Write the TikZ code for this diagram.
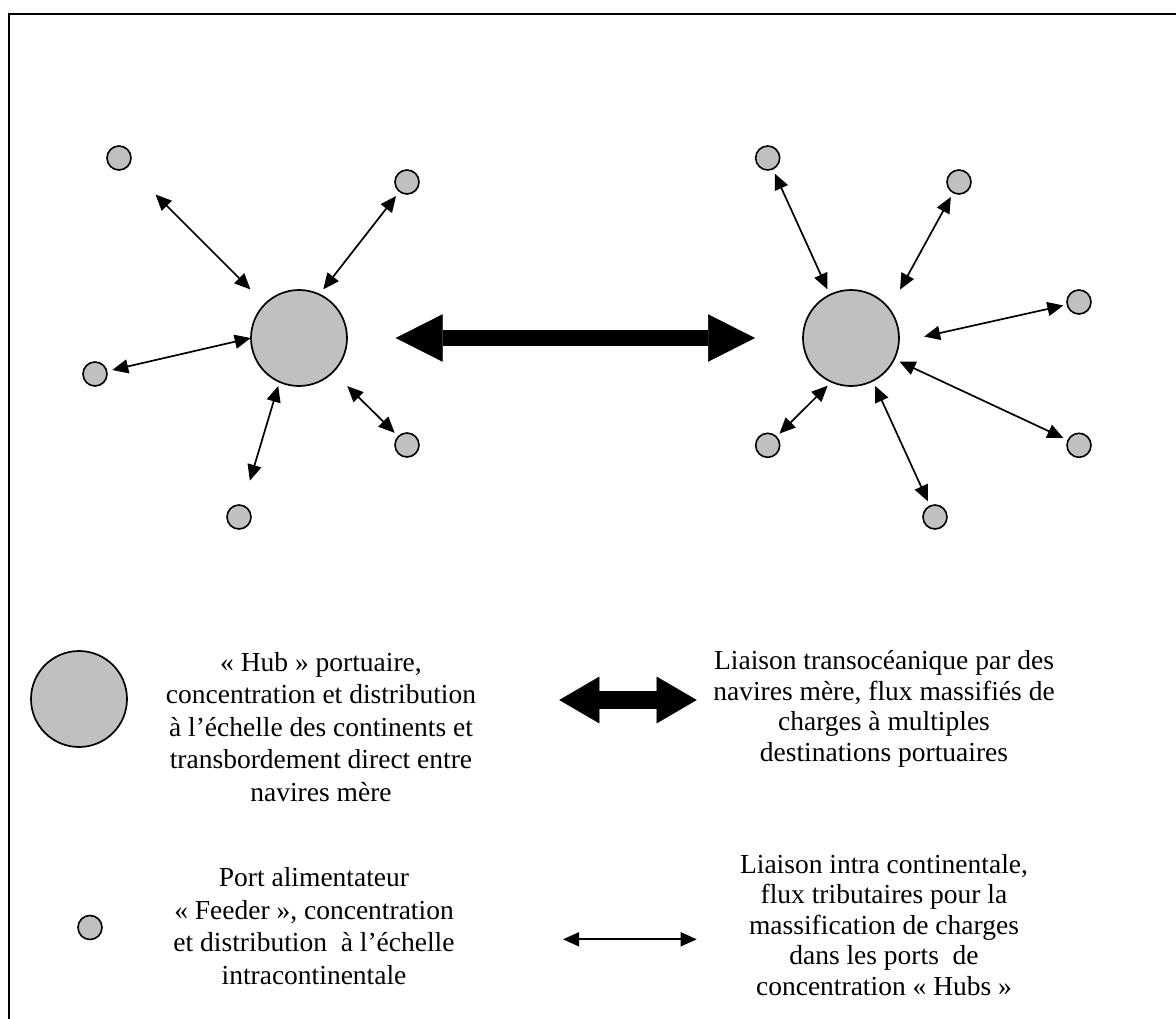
\documentclass[tikz,border=0pt]{standalone}
\usepackage{fontspec}
\setmainfont{Liberation Serif}
\usetikzlibrary{arrows.meta}
\definecolor{portgray}{RGB}{192,192,192}
\begin{document}
\begin{tikzpicture}[x=1pt,y=-1pt,
  hub/.style={circle,draw,line width=1.7pt,fill=portgray,minimum size=96pt,inner sep=0pt,outer sep=0pt},
  feeder/.style={circle,draw,line width=1.6pt,fill=portgray,minimum size=24pt,inner sep=0pt,outer sep=0pt},
  link/.style={line width=1.7pt,{Triangle[length=16pt,width=14pt]}-{Triangle[length=16pt,width=14pt]}},
  bigarrow/.style={line width=15.7pt,{Triangle[length=47pt,width=47.4pt,line width=0.5pt]}-{Triangle[length=47pt,width=47.4pt,line width=0.5pt]}},
  legarrow/.style={line width=18pt,{Triangle[length=40pt,width=46.6pt,line width=0.5pt]}-{Triangle[length=40pt,width=46.6pt,line width=0.5pt]}},
  legtext/.style={align=center,inner sep=0pt,font=\fontsize{27.5pt}{32.5pt}\selectfont},
  legtextr/.style={align=center,inner sep=0pt,font=\fontsize{27.5pt}{30.5pt}\selectfont}]
\useasboundingbox (0,0) rectangle (1176,1019);
\begin{scope}
\clip (0,0) rectangle (1176,1019);
\draw[line width=2pt] (9,14) rectangle (1200,1040);
\end{scope}
% hubs
\node[hub] (h1) at (299,338) {};
\node[hub] (h2) at (851,338) {};
% feeders left
\node[feeder] (a1) at (119,158) {};
\node[feeder] (a2) at (407,182) {};
\node[feeder] (a3) at (95,374) {};
\node[feeder] (a4) at (407,445) {};
\node[feeder] (a5) at (239,517) {};
% feeders right
\node[feeder] (b1) at (767.7,158) {};
\node[feeder] (b2) at (959,182) {};
\node[feeder] (b3) at (1079,302) {};
\node[feeder] (b4) at (1079,445.3) {};
\node[feeder] (b5) at (935,517) {};
\node[feeder] (b6) at (767.7,445.3) {};
% links left
\draw[link,shorten <=39.6pt,shorten >=20.6pt] (a1) -- (h1.135);
\draw[link,shorten <=5.7pt,shorten >=6.5pt] (a2) -- (h1.65);
\draw[link,shorten <=5.7pt,shorten >=0.3pt] (a3) -- (h1.180);
\draw[link,shorten <=5.3pt,shorten >=20.1pt] (a4) -- (h1.315);
\draw[link,shorten <=25.9pt,shorten >=4.3pt] (a5) -- (h1.246);
% links right
\draw[link,shorten <=5pt,shorten >=6pt] (b1) -- (h2.116);
\draw[link,shorten <=5pt,shorten >=22.2pt] (b2) -- (h2.37);
\draw[link,shorten <=4pt,shorten >=25.9pt] (b3) -- (h2.355);
\draw[link,shorten <=5.2pt,shorten >=5.8pt] (b4) -- (h2.334);
\draw[link,shorten <=5.3pt,shorten >=5.7pt] (b5) -- (h2.297);
\draw[link,shorten <=4.5pt,shorten >=5.4pt] (b6) -- (h2.246);
% transoceanic link
\draw[bigarrow,shorten <=48.7pt,shorten >=48pt] (h1) -- (h2);
% legend
\node[hub] (lh) at (79,699) {};
\node[feeder] (lf) at (90,927.5) {};
\coordinate (lbA) at (559.3,700);
\coordinate (lbB) at (696.7,700);
\draw[legarrow] (lbA) -- (lbB);
\coordinate (lsA) at (563,939.3);
\coordinate (lsB) at (696.7,939.3);
\draw[link] (lsA) -- (lsB);
\node[legtext] (t1) at (321,727) {« Hub » portuaire,\\concentration et distribution\\à l’échelle des continents et\\transbordement direct entre\\navires mère};
\node[legtextr] (t2) at (884,709) {Liaison transocéanique par des\\navires mère, flux massifiés de\\charges à multiples\\destinations portuaires};
\node[legtext] (t3) at (314,926) {Port alimentateur\\« Feeder », concentration\\et distribution\ \ à l’échelle\\intracontinentale};
\node[legtextr] (t4) at (884,925) {Liaison intra continentale,\\flux tributaires pour la\\massification de charges\\dans les ports\ \ de\\concentration « Hubs »};
\end{tikzpicture}
\end{document}
